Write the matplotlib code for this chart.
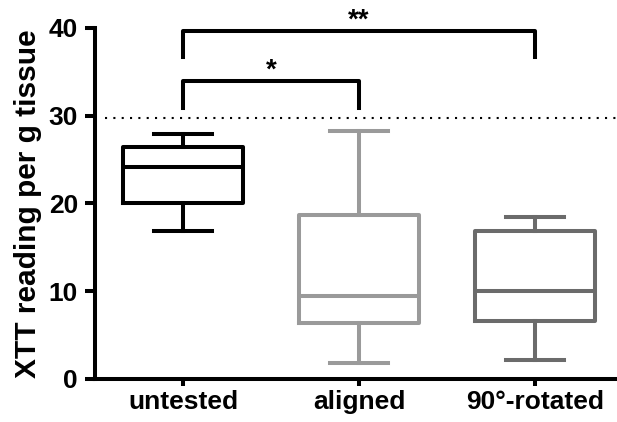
import matplotlib.pyplot as plt

plt.rcParams["font.family"] = ["Liberation Sans", "DejaVu Sans"]
plt.rcParams["font.weight"] = "bold"

groups = ["untested", "aligned", "90°-rotated"]
colors = ["#000000", "#9a9a9a", "#6b6b6b"]
whisker_low = [16.9, 1.8, 2.2]
q1 = [20.0, 6.35, 6.6]
median = [24.1, 9.5, 10.0]
q3 = [26.4, 18.65, 16.8]
whisker_high = [27.9, 28.3, 18.5]

threshold = 29.7
# significance brackets: (left group, right group, leg bottom, bar height, label)
brackets = [(0, 1, 30.85, 34.0, "*"), (0, 2, 36.7, 39.66, "**")]

fig = plt.figure(figsize=(6.17, 4.22), dpi=100)
ax = fig.add_axes([0.154, 0.102, 0.846, 0.832])

lw = 2.9
stats = []
for i in range(len(groups)):
    stats.append({"whislo": whisker_low[i], "q1": q1[i], "med": median[i],
                  "q3": q3[i], "whishi": whisker_high[i], "label": groups[i]})

for i, s in enumerate(stats):
    c = colors[i]
    ax.bxp([s], positions=[i], widths=0.68, capwidths=0.33, showfliers=False,
           boxprops=dict(color=c, linewidth=lw, solid_joinstyle="round"),
           medianprops=dict(color=c, linewidth=lw),
           whiskerprops=dict(color=c, linewidth=lw),
           capprops=dict(color=c, linewidth=lw))

ax.axhline(threshold, xmin=0.02, color="black", linewidth=1.5,
           linestyle=(0, (1, 3)), clip_on=False)

for a, b, leg, top, label in brackets:
    ax.plot([a, a, b, b], [leg, top, top, leg], color="black", linewidth=lw,
            solid_joinstyle="round", clip_on=False)
    ax.text((a + b) / 2, top - 0.3, label, ha="center", va="bottom",
            fontsize=20, fontweight="bold", clip_on=False)

ax.set_xlim(-0.5, 2.466)
ax.set_ylim(0, 40)
ax.set_yticks([0, 10, 20, 30, 40])
ax.set_xticks(range(len(groups)))
ax.set_xticklabels(groups)
ax.set_ylabel("XTT reading per g tissue", fontsize=21.5, fontweight="bold", labelpad=5)

for side in ["top", "right"]:
    ax.spines[side].set_visible(False)
for side in ["left", "bottom"]:
    ax.spines[side].set_linewidth(lw)
ax.tick_params(axis="y", length=7.2, width=lw, labelsize=19, pad=5)
ax.tick_params(axis="x", length=5, width=lw, labelsize=19, pad=3)
for t in ax.get_xticklabels() + ax.get_yticklabels():
    t.set_fontweight("bold")

fig.savefig("out.png", dpi=100)
